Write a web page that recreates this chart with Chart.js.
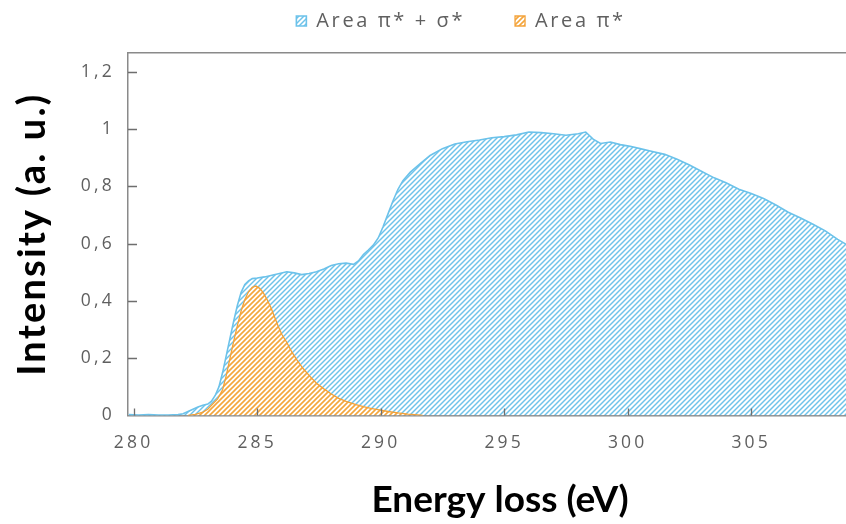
<!DOCTYPE html>
<html><head><meta charset="utf-8">
<script src="https://cdn.jsdelivr.net/npm/chart.js@4.4.1/dist/chart.umd.min.js"></script>
<style>html,body{margin:0;padding:0;background:#fff;overflow:hidden;width:846px;height:524px}#c{display:block}</style>
</head><body><canvas id="c" width="872" height="524"></canvas>
<script>
const seriesLabels = ['Area π* + σ*', 'Area π*'];
const xAxisTitle = 'Energy loss (eV)';
const yAxisTitle = 'Intensity (a. u.)';
const xTickValues = [280, 285, 290, 295, 300, 305];
const xTickLabels = ['280', '285', '290', '295', '300', '305'];
const yTickValues = [0, 0.2, 0.4, 0.6, 0.8, 1, 1.2];
const yTickLabels = ['0', '0,2', '0,4', '0,6', '0,8', '1', '1,2'];

const blueEnergy = [279.8,280.2,280.6,281.0,281.4,281.8,282.0,282.2,282.4,282.6,282.8,283.0,283.15,283.3,283.45,283.6,283.75,283.9,284.05,284.2,284.35,284.5,284.65,284.8,285.0,285.3,285.6,285.9,286.2,286.5,286.8,287.1,287.4,287.7,288.0,288.3,288.6,288.9,289.1,289.3,289.5,289.7,289.9,290.1,290.3,290.5,290.7,290.9,291.2,291.6,292.0,292.5,293.0,293.5,294.0,294.5,295.0,295.5,296.0,296.5,297.0,297.5,298.0,298.3,298.6,298.9,299.3,299.7,300.1,300.5,301.0,301.5,302.0,302.5,303.0,303.5,304.0,304.5,305.0,305.5,306.0,306.5,307.0,307.5,308.0,308.5,308.9];
const blueIntensity = [0.003,0.002,0.003,0.002,0.002,0.003,0.006,0.014,0.022,0.030,0.036,0.040,0.050,0.070,0.100,0.150,0.210,0.270,0.330,0.385,0.430,0.458,0.470,0.478,0.480,0.484,0.490,0.496,0.502,0.498,0.492,0.496,0.502,0.512,0.524,0.530,0.532,0.528,0.540,0.562,0.578,0.595,0.620,0.660,0.705,0.750,0.790,0.820,0.850,0.880,0.908,0.932,0.948,0.956,0.962,0.970,0.974,0.980,0.990,0.988,0.984,0.979,0.984,0.990,0.965,0.950,0.955,0.946,0.940,0.932,0.922,0.912,0.895,0.875,0.852,0.830,0.812,0.790,0.775,0.758,0.735,0.710,0.690,0.668,0.645,0.615,0.595];

const orangeEnergy = [282.2,282.5,282.8,283.0,283.2,283.4,283.6,283.75,283.9,284.05,284.2,284.35,284.5,284.65,284.8,284.95,285.1,285.25,285.4,285.55,285.7,285.85,286.0,286.2,286.4,286.6,286.85,287.1,287.4,287.7,288.0,288.3,288.6,289.0,289.3,289.6,290.0,290.3,290.7,291.1,291.5,291.7];
const orangeIntensity = [0,0.004,0.012,0.022,0.040,0.058,0.090,0.140,0.200,0.260,0.315,0.365,0.405,0.432,0.448,0.452,0.444,0.428,0.405,0.378,0.345,0.312,0.283,0.255,0.222,0.195,0.165,0.140,0.113,0.093,0.075,0.060,0.049,0.038,0.031,0.025,0.019,0.014,0.009,0.005,0.002,0];

const xMin = 279.77, xMax = 309.89, yMin = 0, yMax = 1.266;

function hatch(color, lw) {
  const s = 5;
  const c = document.createElement('canvas');
  c.width = s; c.height = s;
  const g = c.getContext('2d');
  g.fillStyle = '#ffffff';
  g.fillRect(0, 0, s, s);
  g.strokeStyle = color;
  g.lineWidth = lw;
  g.beginPath();
  g.moveTo(-1, s + 1); g.lineTo(s + 1, -1);
  g.moveTo(-s / 2 - 1, s / 2 + 1); g.lineTo(s / 2 + 1, -s / 2 - 1);
  g.moveTo(s / 2 - 1, s * 1.5 + 1); g.lineTo(s * 1.5 + 1, s / 2 - 1);
  g.stroke();
  return g.createPattern(c, 'repeat');
}

const toPoints = (xs, ys) => xs.map((x, i) => ({x: x, y: ys[i]}));

function withSpacing(obj, method, spacing) {
  const orig = obj[method].bind(obj);
  obj[method] = function () {
    const ctx = this.ctx;
    const prev = ctx.letterSpacing;
    ctx.letterSpacing = spacing;
    const r = orig.apply(null, arguments);
    ctx.letterSpacing = prev;
    return r;
  };
}

const spacingPlugin = {
  id: 'letterSpacing',
  beforeUpdate(chart) {
    const lg = chart.legend;
    if (lg && !lg._spaced) {
      withSpacing(lg, 'fit', '2.6px');
      withSpacing(lg, 'draw', '2.6px');
      lg._spaced = true;
    }
  },
  beforeDraw(chart) {
    ['x', 'y'].forEach(id => {
      const s = chart.scales[id];
      if (s && !s._spaced) {
        withSpacing(s, 'drawLabels', '3.2px');
        if (id === 'y') withSpacing(s, 'drawTitle', '2.2px');
        s._spaced = true;
      }
    });
  }
};

const innerTicks = {
  id: 'innerTicks',
  afterDraw(chart) {
    const {ctx, chartArea: a, scales: {x, y}} = chart;
    ctx.save();
    ctx.strokeStyle = '#6e6e6e';
    ctx.lineWidth = 1.3;
    ctx.beginPath();
    x.ticks.forEach(t => {
      const px = Math.round(x.getPixelForValue(t.value)) + 0.5;
      if (px > a.left + 4) { ctx.moveTo(px, a.bottom); ctx.lineTo(px, a.bottom - 7); }
    });
    y.ticks.forEach(t => {
      const py = Math.round(y.getPixelForValue(t.value)) + 0.5;
      if (t.value > 0) { ctx.moveTo(a.left, py); ctx.lineTo(a.left + 9, py); }
    });
    ctx.stroke();
    ctx.restore();
  }
};

const axisGray = '#8a8a8a';
const tickFont = {family: 'Open Sans', size: 17.5};

new Chart(document.getElementById('c'), {
  type: 'line',
  data: {
    datasets: [
      {
        label: seriesLabels[0],
        data: toPoints(blueEnergy, blueIntensity),
        order: 1,
        borderColor: '#6cc2ea',
        borderWidth: 1.6,
        backgroundColor: hatch('#6ec3ea', 1.45),
        fill: 'origin',
        pointRadius: 0,
        tension: 0
      },
      {
        label: seriesLabels[1],
        data: toPoints(orangeEnergy, orangeIntensity),
        order: 0,
        borderColor: '#f3a23a',
        borderWidth: 1.3,
        backgroundColor: hatch('#f4a63c', 1.6),
        fill: 'origin',
        pointRadius: 0,
        tension: 0
      }
    ]
  },
  options: {
    responsive: false,
    animation: false,
    events: [],
    layout: {padding: {top: -39, left: 50, right: 0, bottom: 0}},
    plugins: {
      tooltip: {enabled: false},
      legend: {
        display: true,
        position: 'top',
        reverse: true,
        labels: {
          boxWidth: 10, boxHeight: 10, padding: 50,
          color: '#606060',
          font: {family: 'Open Sans', size: 20}
        }
      }
    },
    scales: {
      x: {
        type: 'linear', position: 'bottom', min: xMin, max: xMax, z: 1,
        afterBuildTicks: s => { s.ticks = xTickValues.map(v => ({value: v})); },
        afterFit: s => { s.height = 108.5; },
        ticks: {callback: (v, i) => xTickLabels[i], color: '#5f5f5f', font: tickFont, padding: 17, maxRotation: 0, autoSkip: false},
        grid: {display: false, drawTicks: false},
        border: {display: true, color: axisGray, width: 1.5},
        title: {display: true, text: xAxisTitle, color: '#000', font: {family: 'Lato', weight: 'bold', size: 37}, padding: {top: 0, bottom: 2}}
      },
      x2: {
        type: 'linear', position: 'top', min: xMin, max: xMax, z: 1,
        afterBuildTicks: s => { s.ticks = []; },
        afterFit: s => { s.height = 12; },
        ticks: {display: false},
        grid: {display: false, drawTicks: false},
        border: {display: true, color: axisGray, width: 1.5}
      },
      y: {
        type: 'linear', position: 'left', min: yMin, max: yMax, z: 1,
        afterBuildTicks: s => { s.ticks = yTickValues.map(v => ({value: v})); },
        afterFit: s => { s.width = 78; },
        ticks: {callback: (v, i) => yTickLabels[i], color: '#5f5f5f', font: tickFont, padding: 13},
        grid: {display: false, drawTicks: false},
        border: {display: true, color: axisGray, width: 1.5},
        title: {display: true, text: yAxisTitle, color: '#000', font: {family: 'Lato', weight: 'bold', size: 38}, padding: {top: -40, bottom: 0}}
      }
    }
  },
  plugins: [spacingPlugin, innerTicks]
});
</script>
</body></html>
